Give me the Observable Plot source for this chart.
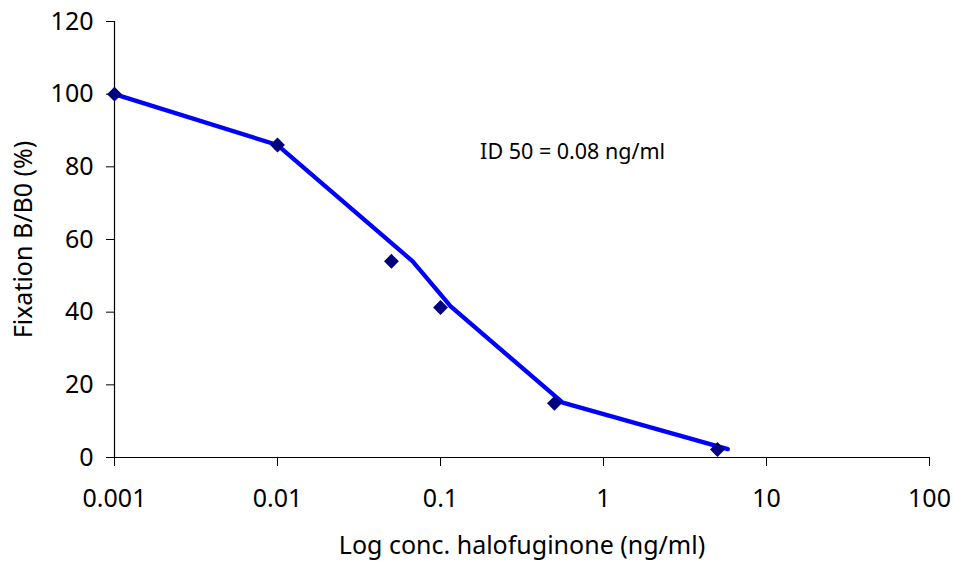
<!DOCTYPE html>
<html>
<head>
<meta charset="utf-8">
<script src="https://cdn.jsdelivr.net/npm/d3@7"></script>
<script src="https://cdn.jsdelivr.net/npm/@observablehq/plot@0.6"></script>
<style>
  html, body { margin: 0; padding: 0; background: #fff; }
  #chart { width: 953px; height: 561px; }
</style>
</head>
<body>
<div id="chart"></div>
<script>
// Measured data (diamonds)
const concentrations = [0.001, 0.01, 0.05, 0.1, 0.5, 5];
const fixation = [100, 86, 54, 41.3, 14.9, 2.2];

// Fitted curve vertices
const fitConc = [0.001, 0.01, 0.0675, 0.1155, 0.562, 5.79];
const fitFixation = [100, 86, 54, 41.6, 15.1, 2.3];

// Axis ticks
const xTicks = [0.001, 0.01, 0.1, 1, 10, 100];
const xTickLabels = ["0.001", "0.01", "0.1", "1", "10", "100"];
const yTicks = [0, 20, 40, 60, 80, 100, 120];

// Annotation
const annotationText = ["ID 50 = 0.08 ng/ml"];
const annotationPos = [{x: 0.175, y: 84}];

const xTitle = "Log conc. halofuginone (ng/ml)";
const yTitle = "Fixation B/B0 (%)";

const points = concentrations.map((c, i) => ({c, f: fixation[i]}));
const fit = fitConc.map((c, i) => ({c, f: fitFixation[i]}));
const annotation = annotationPos.map((p, i) => ({...p, text: annotationText[i]}));

const chart = Plot.plot({
  width: 953,
  height: 561,
  marginLeft: 114,
  marginRight: 24,
  marginTop: 21,
  marginBottom: 104,
  style: {fontFamily: "'Noto Sans', sans-serif", fontSize: "25px", background: "#fff", color: "#000"},
  x: {type: "log", domain: [0.001, 100]},
  y: {domain: [0, 120]},
  marks: [
    Plot.axisX({
      ticks: xTicks,
      tickFormat: d => xTickLabels[xTicks.indexOf(d)] ?? String(d),
      tickSize: 9,
      tickPadding: 23,
      fontSize: 25,
      label: null
    }),
    Plot.axisY({
      ticks: yTicks,
      tickSize: 8,
      tickPadding: 13,
      fontSize: 25,
      label: null
    }),
    Plot.ruleX([0.001], {stroke: "#000", strokeWidth: 1.2}),
    Plot.ruleY([0], {stroke: "#000", strokeWidth: 1.2}),
    Plot.line(fit, {x: "c", y: "f", stroke: "#0000FF", strokeWidth: 4.3}),
    Plot.dot(points, {x: "c", y: "f", symbol: "diamond2", r: 6.7, fill: "#000080", stroke: "none"}),
    Plot.text(annotation, {x: "x", y: "y", text: "text", textAnchor: "start", fontSize: 21.5, fill: "#000"}),
    Plot.text([xTitle], {frameAnchor: "bottom", dy: 96, fontSize: 25, fill: "#000"}),
    Plot.text([yTitle], {frameAnchor: "left", textAnchor: "middle", dx: -91, rotate: -90, fontSize: 25, fill: "#000"})
  ]
});
document.getElementById("chart").appendChild(chart);
</script>
</body>
</html>
